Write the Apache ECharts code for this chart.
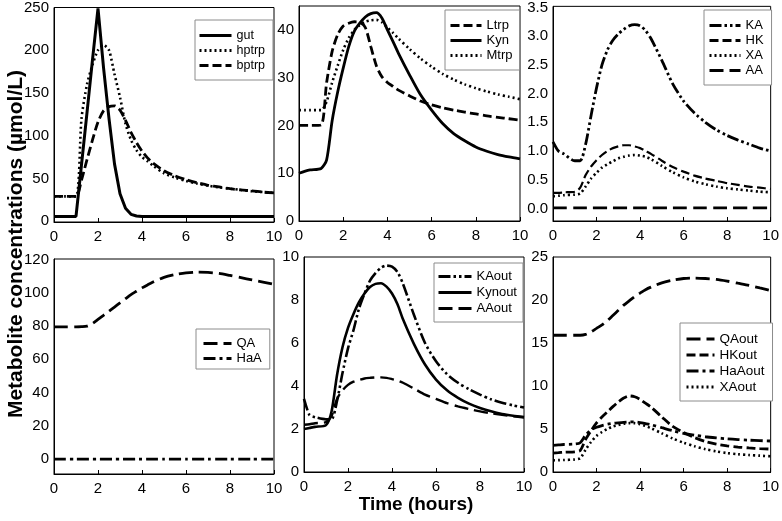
<!DOCTYPE html>
<html>
<head>
<meta charset="utf-8">
<script src="https://cdn.jsdelivr.net/npm/echarts@6/dist/echarts.min.js"></script>
<style>
html,body{margin:0;padding:0;background:#fff;}
#c{width:782px;height:521px;}
</style>
</head>
<body>
<div id="c"></div>
<script>
// time points (hours)
const T = [0, 0.25, 0.5, 1, 1.25, 1.5, 1.75, 2, 2.25, 2.5, 2.75, 3, 3.25, 3.5, 3.75, 4, 4.25, 4.5, 5, 5.5, 6, 6.5, 7, 7.5, 8, 8.5, 9, 9.5, 10];
const xTicks = [0, 2, 4, 6, 8, 10];

// panel 1
const gut   = [5.5,5.5,5.5,5.5,66,127,189,249,180,120,67,32,15,8,6,5.5,5.5,5.5,5.5,5.5,5.5,5.5,5.5,5.5,5.5,5.5,5.5,5.5,5.5];
const hptrp = [29,29,29,29,120,160,183,200,206,200,172,145,114,95,83,75,70,65,56,51,47,44,41.5,39.5,38,36.5,35,34,33];
const bptrp = [29,29,29,29,48,72,95,116,129,134,135,130,118,104,92,82,74,68,59,53,48.5,45,42,40,38,36.5,35.5,34,33];
// panel 2
const Ltrp  = [20,20,20,20.1,29,35.5,39,40.8,41.4,41.7,41.6,40.5,36.5,32.5,30.2,29,28.2,27.4,26.2,25.1,24.3,23.7,23.2,22.8,22.4,22,21.7,21.4,21.1];
const Kyn   = [10,10.4,10.7,11,12.8,21,27,32,36.5,39.7,41.4,42.7,43.4,43.6,42.5,40,37.6,35.1,30.6,26.4,23.2,20.4,18.3,16.8,15.5,14.6,13.9,13.4,13.0];
const Mtrp  = [23.2,23.2,23.2,23.2,25,29,32.5,35.8,38.3,40,41,41.7,42,42.1,41.6,40.5,39.4,38.2,36,34,32.3,30.8,29.6,28.6,27.8,27.1,26.5,26,25.5];
// panel 3
const KA = [1.16,1.0,0.95,0.83,0.83,1.12,1.62,2.1,2.5,2.76,2.93,3.04,3.12,3.18,3.2,3.18,3.1,2.96,2.58,2.17,1.87,1.66,1.5,1.37,1.27,1.19,1.12,1.05,1.0];
const HK = [0.27,0.27,0.28,0.29,0.36,0.58,0.73,0.84,0.93,1.0,1.05,1.08,1.1,1.1,1.08,1.05,1.0,0.95,0.83,0.72,0.64,0.57,0.52,0.48,0.44,0.41,0.38,0.36,0.34];
const XA = [0.21,0.22,0.23,0.24,0.26,0.38,0.52,0.62,0.71,0.77,0.82,0.87,0.9,0.92,0.93,0.92,0.9,0.86,0.74,0.63,0.54,0.47,0.42,0.38,0.35,0.33,0.31,0.29,0.28];
const AA = [0.01,0.01,0.01,0.01,0.01,0.01,0.01,0.01,0.01,0.01,0.01,0.01,0.01,0.01,0.01,0.01,0.01,0.01,0.01,0.01,0.01,0.01,0.01,0.01,0.01,0.01,0.01,0.01,0.01];
// panel 4
const QA  = [79.6,79.6,79.6,79.6,79.7,80,81.5,84,86.5,89,91.5,94,96.5,99,101,103,104.8,106.5,109.3,111,112,112.5,112.3,111.7,110.5,109.2,107.8,106.5,105.2];
const HaA = [0,0,0,0,0,0,0,0,0,0,0,0,0,0,0,0,0,0,0,0,0,0,0,0,0,0,0,0,0];
// panel 5
const KAout  = [3.4,2.65,2.55,2.45,2.45,3.3,4.6,5.75,6.6,7.6,8.3,8.9,9.25,9.5,9.6,9.55,9.3,8.75,7.3,6.0,5.15,4.55,4.15,3.85,3.6,3.38,3.22,3.1,3.0];
const Kynout = [2.0,2.05,2.1,2.18,2.8,4.5,5.8,6.7,7.35,7.9,8.3,8.6,8.75,8.78,8.62,8.3,7.8,7.1,5.95,5.0,4.3,3.8,3.45,3.18,2.98,2.82,2.7,2.62,2.56];
const AAout  = [2.2,2.22,2.27,2.32,2.6,3.4,3.8,4.05,4.2,4.28,4.35,4.38,4.4,4.4,4.38,4.32,4.25,4.15,3.88,3.6,3.4,3.2,3.05,2.93,2.82,2.73,2.66,2.59,2.53];
// panel 6
const QAout  = [15.9,15.9,15.9,15.9,15.9,16.0,16.3,16.7,17.1,17.6,18.2,18.8,19.4,19.9,20.4,20.8,21.2,21.5,22.0,22.3,22.5,22.55,22.5,22.4,22.2,21.95,21.7,21.4,21.1];
const HKout  = [2.2,2.25,2.3,2.35,2.5,3.8,4.8,5.7,6.4,7.0,7.6,8.15,8.6,8.85,8.75,8.45,8.0,7.55,6.4,5.3,4.6,4.0,3.55,3.25,3.05,2.9,2.8,2.72,2.66];
const HaAout = [3.1,3.15,3.2,3.25,3.4,4.3,4.9,5.2,5.4,5.55,5.65,5.72,5.78,5.82,5.82,5.75,5.63,5.5,5.15,4.8,4.5,4.28,4.1,3.97,3.86,3.77,3.7,3.65,3.6];
const XAout  = [1.35,1.38,1.4,1.45,1.6,2.6,3.5,4.2,4.65,5.0,5.3,5.45,5.6,5.68,5.68,5.55,5.35,5.1,4.5,3.9,3.4,3.0,2.65,2.4,2.2,2.07,1.97,1.9,1.83];

// y tick labels per panel
const yTicks = [
  [0, 50, 100, 150, 200, 250],
  [0, 10, 20, 30, 40],
  [0, 0.5, 1.0, 1.5, 2.0, 2.5, 3.0, 3.5],
  [0, 20, 40, 60, 80, 100, 120],
  [0, 2, 4, 6, 8, 10],
  [0, 5, 10, 15, 20, 25]
];
const yRange = [[-1, 250], [0, 45], [-0.22, 3.52], [-9, 120.4], [0, 10], [0, 25]];

const FONT = 'Arial, "Liberation Sans", sans-serif';
const grids = [
  {left: 54, top: 7, width: 220, height: 215},
  {left: 299, top: 6, width: 221, height: 215},
  {left: 553, top: 6, width: 220, height: 215},
  {left: 54, top: 259, width: 220, height: 215},
  {left: 304, top: 257, width: 220, height: 215},
  {left: 553, top: 257, width: 220, height: 215}
];

const SOLID = 'solid', DOT = [2, 3], DASH = [9, 4], LONG = [14, 6], DASHDOT = [12, 4, 3, 4], DASHDOTDOT = [12, 3, 2.5, 3, 2.5, 3];

function ser(name, panel, vals, type, width, smooth) {
  return {
    name: name, type: 'line', xAxisIndex: panel, yAxisIndex: panel,
    data: T.map((t, i) => [t, vals[i]]),
    symbol: 'none', smooth: smooth === undefined ? 0.25 : smooth,
    lineStyle: {color: '#000', width: width || 2.6, type: type},
    itemStyle: {color: '#000'},
    animation: false
  };
}

const series = [
  ser('gut', 0, gut, SOLID, 3, false),
  ser('hptrp', 0, hptrp, DOT, 2.6),
  ser('bptrp', 0, bptrp, DASH, 2.8),
  ser('Ltrp', 1, Ltrp, DASH, 2.8),
  ser('Kyn', 1, Kyn, SOLID, 2.8),
  ser('Mtrp', 1, Mtrp, DOT, 2.6),
  ser('KA', 2, KA, DASHDOTDOT, 2.8),
  ser('HK', 2, HK, DASH, 2.2),
  ser('XA', 2, XA, DOT, 2.6),
  ser('AA', 2, AA, LONG, 2.8),
  ser('QA', 3, QA, LONG, 2.8),
  ser('HaA', 3, HaA, DASHDOT, 2.8),
  ser('KAout', 4, KAout, DASHDOTDOT, 2.6),
  ser('Kynout', 4, Kynout, SOLID, 2.6),
  ser('AAout', 4, AAout, LONG, 2.4),
  ser('QAout', 5, QAout, LONG, 2.8),
  ser('HKout', 5, HKout, DASH, 2.8),
  ser('HaAout', 5, HaAout, DASHDOT, 2.8),
  ser('XAout', 5, XAout, DOT, 2.6)
];

function legend(names, left, top, pad, iw, fs, gap) {
  return {
    data: names, orient: 'vertical', left: left, top: top, padding: pad,
    itemWidth: iw, itemHeight: 12, itemGap: gap === undefined ? 2 : gap,
    backgroundColor: '#fff', borderColor: '#8c8c8c', borderWidth: 1,
    itemStyle: {color: 'rgba(0,0,0,0)', borderWidth: 0, opacity: 0},
    lineStyle: {width: 3, color: '#000', type: 'inherit'},
    textStyle: {fontSize: fs, color: '#000', fontFamily: FONT},
    selectedMode: false
  };
}

const option = {
  animation: false,
  backgroundColor: '#fff',
  textStyle: {fontFamily: FONT},
  grid: grids.map(g => Object.assign({show: true, borderColor: '#000', borderWidth: 1, backgroundColor: 'transparent'}, g)),
  xAxis: grids.map((g, i) => ({
    type: 'value', gridIndex: i, min: 0, max: 10, interval: 2,
    axisLine: {show: true, onZero: false, lineStyle: {color: '#000', width: 1}},
    axisTick: {show: true, inside: true, length: 4, lineStyle: {color: '#000'}},
    axisLabel: {fontSize: 15, color: '#000', margin: 7, fontFamily: FONT, customValues: xTicks},
    splitLine: {show: false}
  })),
  yAxis: grids.map((g, i) => ({
    type: 'value', gridIndex: i, min: yRange[i][0], max: yRange[i][1],
    axisLine: {show: true, onZero: false, lineStyle: {color: '#000', width: 1}},
    axisTick: {show: false},
    axisLabel: {
      fontSize: 15, color: '#000', margin: 5, fontFamily: FONT,
      customValues: yTicks[i],
      formatter: i === 2 ? (v => Number(v).toFixed(1)) : (v => String(Math.round(v)))
    },
    splitLine: {show: false}
  })),
  legend: [
    legend(['gut', 'hptrp', 'bptrp'], 195, 20, [9, 8, 8, 3], 32, 12.5),
    legend(['Ltrp', 'Kyn', 'Mtrp'], 445, 10, [9, 7, 8, 4], 31, 13),
    legend(['KA', 'HK', 'XA', 'AA'], 704, 10, [9, 8, 8, 4], 31, 13),
    legend(['QA', 'HaA'], 196, 329, [8, 8, 4, 6], 28, 13, 2),
    legend(['KAout', 'Kynout', 'AAout'], 434, 263, [7, 6, 7, 3], 33, 13, 3),
    legend(['QAout', 'HKout', 'HaAout', 'XAout'], 680, 323, [9, 8, 7, 5], 28, 13.5, 2)
  ],
  graphic: [
    {type: 'text', x: 16, y: 244, rotation: Math.PI / 2,
     style: {text: 'Metabolite concentrations (µmol/L)', font: 'bold 21px ' + FONT, fill: '#000',
             align: 'center', verticalAlign: 'middle', textAlign: 'center', textVerticalAlign: 'middle'}},
    {type: 'text', x: 416, y: 505,
     style: {text: 'Time (hours)', font: 'bold 19px ' + FONT, fill: '#000',
             align: 'center', verticalAlign: 'middle', textAlign: 'center', textVerticalAlign: 'middle'}}
  ],
  series: series
};

const chart = echarts.init(document.getElementById('c'), null, {renderer: 'canvas'});
chart.setOption(option);
</script>
</body>
</html>
